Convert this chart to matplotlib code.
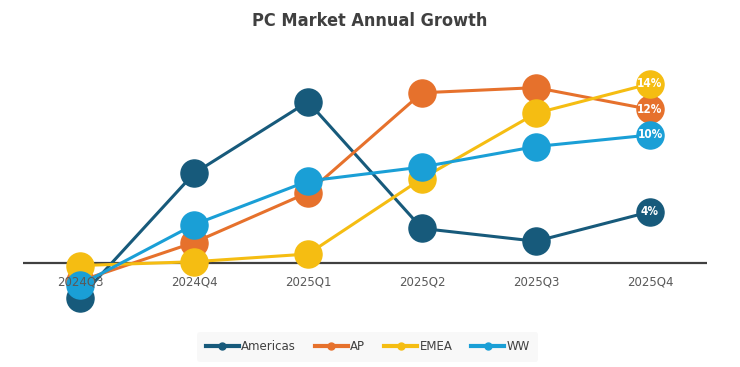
import matplotlib
matplotlib.use("Agg")
import matplotlib.pyplot as plt
from matplotlib.lines import Line2D

quarters = ["2024Q3", "2024Q4", "2025Q1", "2025Q2", "2025Q3", "2025Q4"]
americas = [-2.7, 7.0, 12.6, 2.7, 1.7, 4.0]
ap = [-1.4, 1.6, 5.5, 13.3, 13.7, 12.0]
emea = [-0.2, 0.1, 0.7, 6.6, 11.7, 14.0]
ww = [-1.7, 3.0, 6.4, 7.5, 9.1, 10.0]

series = [
    ("Americas", americas, "#175a7b"),
    ("AP", ap, "#e6712c"),
    ("EMEA", emea, "#f5bd12"),
    ("WW", ww, "#1a9fd6"),
]

fig = plt.figure(figsize=(7.4, 3.67), dpi=100)
ax = fig.add_axes([23/740, 67/367, 684/740, 240/367])
x = list(range(len(quarters)))
ax.set_xlim(-0.5, 5.5)
ax.set_ylim(-37/12.8, 203/12.8)
ax.axhline(0, color="#404040", lw=1.6, zorder=1)

for name, vals, col in series:
    ax.plot(x, vals, color=col, lw=2.2, marker="o", markersize=19.5, label=name,
            clip_on=False, zorder=3)
    ax.text(x[-1], vals[-1], f"{vals[-1]:.0f}%", color="white", fontsize=8.5,
            fontweight="bold", ha="center", va="center", zorder=5,
            family="DejaVu Sans", fontstretch="condensed")

for s in ax.spines.values():
    s.set_visible(False)
ax.spines["bottom"].set_position(("data", 0))
ax.set_yticks([])
ax.set_xticks(x)
ax.set_xticklabels(quarters, color="#595959", fontsize=8.5)
ax.tick_params(axis="x", length=0, pad=9)
ax.xaxis.set_zorder(6)

fig.text(0.5, 1 - 21/367, "PC Market Annual Growth", ha="center", va="center",
         fontsize=13, fontweight="bold", color="#404040", family="DejaVu Sans",
         fontstretch="condensed")

hs = [Line2D([0], [0], color=c, lw=3, marker="o", markersize=5) for _, _, c in series]
leg = fig.legend(hs, [s[0] for s in series], loc="center", bbox_to_anchor=(0.497, 1 - 347/367),
                 ncol=4, frameon=True, fontsize=8.5, handlelength=2.8, handletextpad=0.2,
                 columnspacing=1.6, borderpad=0.7)
leg.get_frame().set_facecolor("#f7f7f7")
leg.get_frame().set_edgecolor("none")
for t in leg.get_texts():
    t.set_color("#404040")

fig.savefig("out.png", dpi=100, facecolor="white")
